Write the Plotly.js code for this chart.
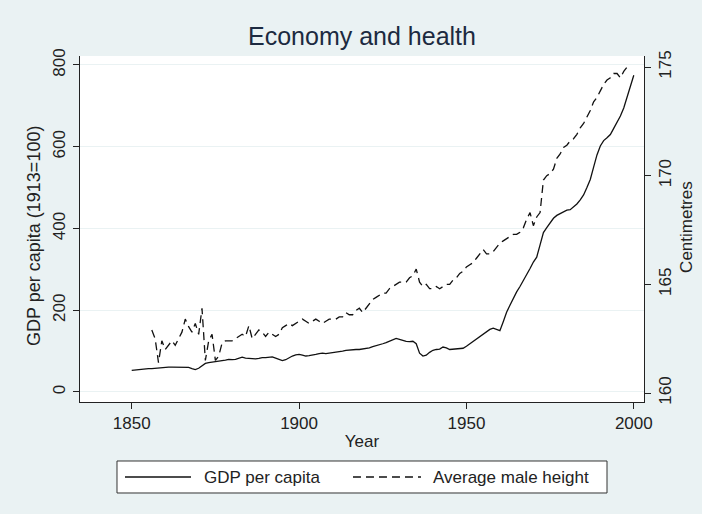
<!DOCTYPE html>
<html>
<head>
<meta charset="utf-8">
<script src="https://cdn.plot.ly/plotly-3.0.1.min.js"></script>
<style>html,body{margin:0;padding:0;background:#eaf2f3;}#chart{width:702px;height:514px;}</style>
</head>
<body>
<div id="chart"></div>
<script>
// GDP per capita (1913=100), annual 1850-2000
var gdpYears = [];
for (var y = 1850; y <= 2000; y++) gdpYears.push(y);
var gdpValues = [
 53,54,55,55,56,57,57,58,59,60,          // 1850-1859
 61,61,61,61,61,61,61,60,57,55,          // 1860-1869
 58,64,70,72,73,74,76,77,78,80,          // 1870-1879
 79,80,83,85,83,82,81,81,82,84,          // 1880-1889
 84,85,86,83,80,77,79,84,88,91,          // 1890-1899
 92,90,88,89,90,92,94,95,94,95,          // 1900-1909
 97,98,99,100,102,103,103,104,104,105,   // 1910-1919
 107,108,111,113,115,118,121,125,129,131,// 1920-1929
 129,126,124,123,124,118,95,88,90,97,    // 1930-1939
 102,104,105,110,108,104,105,105,106,107,// 1940-1949
 112,118,124,130,136,140,146,153,156,152,// 1950-1959
 150,172,195,212,230,245,258,272,288,302,// 1960-1969
 318,330,360,390,402,415,425,432,437,441,// 1970-1979
 445,446,452,460,470,482,500,520,550,580,// 1980-1989
 602,615,622,630,645,660,675,695,720,748,// 1990-1999
 775                                      // 2000
];

// Average male height (centimetres), annual 1856-1999
var heightYears = [];
for (var h = 1856; h <= 1999; h++) heightYears.push(h);
var heightValues = [
 162.9,162.5,161.4,162.4,                                     // 1856-1859
 162.0,162.2,162.4,162.2,162.5,162.8,163.4,163.05,162.8,163.2,// 1860-1869
 162.7,163.9,161.5,162.4,162.7,161.5,161.7,162.3,162.4,162.4, // 1870-1879
 162.4,162.5,162.6,162.7,162.6,163.1,162.5,162.7,162.9,162.8, // 1880-1889
 162.6,162.8,162.7,162.6,162.7,163.0,163.1,163.2,163.1,163.2, // 1890-1899
 163.3,163.4,163.3,163.2,163.3,163.4,163.3,163.2,163.3,163.4, // 1900-1909
 163.4,163.4,163.5,163.5,163.7,163.6,163.6,163.8,163.9,163.7, // 1910-1919
 163.9,164.1,164.3,164.4,164.5,164.6,164.6,164.8,164.9,165.0, // 1920-1929
 165.1,165.1,165.1,165.3,165.4,165.7,165.1,164.9,165.0,164.8, // 1930-1939
 164.8,164.9,164.8,164.9,165.0,165.0,165.2,165.3,165.5,165.6, // 1940-1949
 165.8,165.9,166.0,166.2,166.4,166.6,166.4,166.4,166.5,166.7, // 1950-1959
 166.9,167.0,167.1,167.2,167.3,167.3,167.4,167.6,168.0,168.3, // 1960-1969
 167.7,168.1,168.3,169.8,170.0,170.1,170.3,170.8,171.0,171.3, // 1970-1979
 171.4,171.6,171.7,171.9,172.2,172.4,172.7,173.0,173.4,173.6, // 1980-1989
 173.9,174.2,174.4,174.5,174.7,174.7,174.5,174.8,175.0,175.1  // 1990-1999
];

var xTicks = [1850, 1900, 1950, 2000];
var yTicks = [0, 200, 400, 600, 800];
var y2Ticks = [160, 165, 170, 175];
var seriesNames = ['GDP per capita', 'Average male height'];

var fam = "'Liberation Sans', Arial, sans-serif";
var tickFont = {family: fam, size: 17, color: '#222222'};
var titleFont = {family: fam, size: 17, color: '#222222'};
var DASH = '8px,5px';

var traces = [
 {x: gdpYears, y: gdpValues, type: 'scatter', mode: 'lines', name: seriesNames[0],
  line: {color: '#111111', width: 1.3}, yaxis: 'y'},
 {x: heightYears, y: heightValues, type: 'scatter', mode: 'lines', name: seriesNames[1],
  line: {color: '#111111', width: 1.3, dash: DASH}, yaxis: 'y2'}
];

// legend drawn as layout decoration (paper coordinates)
var legY = -0.2168;
var shapes = [
 {type: 'rect', xref: 'paper', yref: 'paper', x0: 0.0656, x1: 0.9344, y0: -0.263, y1: -0.1705,
  fillcolor: '#ffffff', line: {color: '#333333', width: 1}},
 {type: 'line', xref: 'paper', yref: 'paper', x0: 0.0798, x1: 0.1968, y0: legY, y1: legY,
  line: {color: '#111111', width: 1.3}},
 {type: 'line', xref: 'paper', yref: 'paper', x0: 0.484, x1: 0.6046, y0: legY, y1: legY,
  line: {color: '#111111', width: 1.3, dash: DASH}}
];
var annotations = [
 {text: seriesNames[0], xref: 'paper', yref: 'paper', x: 0.2163, y: legY, xanchor: 'left', yanchor: 'middle',
  showarrow: false, font: {family: fam, size: 17, color: '#222222'}},
 {text: seriesNames[1], xref: 'paper', yref: 'paper', x: 0.6223, y: legY, xanchor: 'left', yanchor: 'middle',
  showarrow: false, font: {family: fam, size: 17, color: '#222222'}},
 {text: 'GDP per capita (1913=100)', xref: 'paper', yref: 'paper', x: -0.0816, y: 0.48, textangle: -90,
  xanchor: 'center', yanchor: 'middle', showarrow: false, font: {family: fam, size: 18, color: '#222222'}},
 {text: 'Centimetres', xref: 'paper', yref: 'paper', x: 1.0762, y: 0.506, textangle: -90,
  xanchor: 'center', yanchor: 'middle', showarrow: false, font: {family: fam, size: 17, color: '#222222'}}
];

var layout = {
 width: 702, height: 514,
 paper_bgcolor: '#eaf2f3', plot_bgcolor: '#ffffff',
 margin: {l: 80, r: 58, t: 56, b: 112},
 title: {text: 'Economy and health', x: 0.5, xref: 'paper', xanchor: 'center', y: 1, yref: 'container', yanchor: 'top', pad: {t: 27},
  font: {family: fam, size: 25, color: '#1c2a40'}},
 showlegend: false,
 shapes: shapes,
 annotations: annotations,
 xaxis: {range: [1834.55, 2003.05], tickvals: xTicks, ticktext: xTicks.map(String),
  ticks: 'outside', ticklen: 6, tickcolor: '#222', showline: true, linecolor: '#222', linewidth: 1,
  showgrid: false, zeroline: false, tickfont: tickFont,
  title: {text: 'Year', font: titleFont, standoff: 2}},
 yaxis: {range: [-24.5, 822], tickvals: yTicks, ticktext: yTicks.map(String), tickangle: -90,
  ticks: 'outside', ticklen: 6, tickcolor: '#222', showline: true, linecolor: '#222', linewidth: 1,
  showgrid: true, gridcolor: '#eaf2f3', gridwidth: 1, zeroline: false, tickfont: tickFont,
  ticklabelstandoff: 1},
 yaxis2: {range: [159.586, 175.506], tickvals: y2Ticks, ticktext: y2Ticks.map(String), tickangle: -90,
  overlaying: 'y', side: 'right',
  ticks: 'outside', ticklen: 6, tickcolor: '#222', showline: true, linecolor: '#222', linewidth: 1,
  showgrid: false, zeroline: false, tickfont: tickFont}
};

Plotly.newPlot('chart', traces, layout, {displayModeBar: false, staticPlot: true});
</script>
</body>
</html>
